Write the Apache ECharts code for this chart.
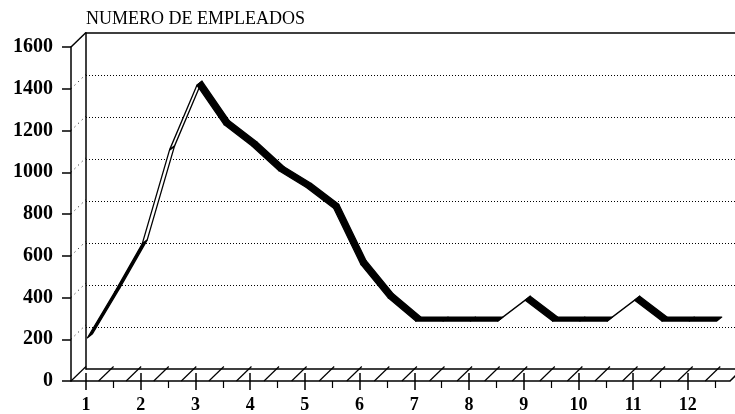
<!DOCTYPE html>
<html>
<head>
<meta charset="utf-8">
<script src="https://cdn.jsdelivr.net/npm/echarts@6/dist/echarts.min.js"></script>
<style>
html, body { margin: 0; padding: 0; background: #fff; }
#chart { width: 735px; height: 414px; }
</style>
</head>
<body>
<div id="chart"></div>
<script>
// quincenas sobre el eje de meses
const periodos = [1, 1.5, 2, 2.5, 3, 3.5, 4, 4.5, 5, 5.5, 6, 6.5, 7, 7.5, 8, 8.5, 9, 9.5, 10, 10.5, 11, 11.5, 12, 12.5]
const empleados = [200, 420, 650, 1100, 1410, 1220, 1120, 1000, 920, 820, 550, 390, 280, 280, 280, 280, 380, 280, 280, 280, 380, 280, 280, 280]
const meses = [1, 2, 3, 4, 5, 6, 7, 8, 9, 10, 11, 12]
const medios = [1.5, 2.5, 3.5, 4.5, 5.5, 6.5, 7.5, 8.5, 9.5, 10.5, 11.5, 12.5]
const yTicks = [0, 200, 400, 600, 800, 1000, 1200, 1400, 1600]

const X_MIN = 0.726
const X_MAX = 12.77
const DX = 15, DY = -14.5        // profundidad del marco 3D
const HATCH_STEP = 0.504
const FONT = 'Liberation Serif'

const chart = echarts.init(document.getElementById('chart'))

const renderFrame = (params, api) => {
  const children = []
  const line = (p, q, style) => children.push({
    type: 'line', shape: { x1: p[0], y1: p[1], x2: q[0], y2: q[1] }, style
  })
  const back = p => [p[0] + DX, p[1] + DY]
  const solid = { stroke: '#000', lineWidth: 1.5 }

  const tl = api.coord([X_MIN, 1600])
  line(tl, back(tl), solid)

  // rayado del piso
  for (let x = X_MIN; x <= X_MAX + 0.01; x += HATCH_STEP) {
    const p = api.coord([x, 0])
    line(p, back(p), { stroke: '#000', lineWidth: 1.2 })
  }
  const br = api.coord([X_MAX, 0])
  line(br, back(br), solid)

  // punteado de la pared lateral
  yTicks.slice(1, -1).forEach(v => {
    const p = api.coord([X_MIN, v])
    line(p, back(p), { stroke: '#000', lineWidth: 1, lineDash: [1, 4] })
  })
  return { type: 'group', children }
}

// cinta con grosor: cara oscura al bajar, hueca al subir empinado
const renderRibbon = (params, api) => {
  const i = params.dataIndex
  if (i >= periodos.length - 1) return
  const p0 = api.coord([periodos[i], empleados[i]])
  const p1 = api.coord([periodos[i + 1], empleados[i + 1]])
  const a0 = [p0[0] + 1.5, p0[1] - 1.5]
  const a1 = [p1[0] + 1.5, p1[1] - 1.5]
  const b0 = [a0[0] + 5, a0[1] - 4]
  const b1 = [a1[0] + 5, a1[1] - 4]
  const dx = a1[0] - a0[0], dy = a1[1] - a0[1]
  const gap = (dx * (-4) - dy * 5) / Math.hypot(dx, dy)
  const filled = gap < 2.5
  return {
    type: 'polygon',
    shape: { points: [a0, a1, b1, b0] },
    style: { fill: filled ? '#000' : '#fff', stroke: '#000', lineWidth: 1.3, lineJoin: 'round' }
  }
}

const hidden = { show: false }
const plain = v => String(v)

const option = {
  animation: false,
  backgroundColor: '#fff',
  title: {
    text: 'NUMERO DE EMPLEADOS',
    left: 86,
    top: 10,
    padding: 0,
    textStyle: { fontFamily: FONT, fontSize: 18, fontWeight: 'normal', color: '#000' }
  },
  grid: [
    { left: 86, top: 33, width: 649, height: 336 },  // pared del fondo
    { left: 71, top: 47, width: 659, height: 337 }   // plano frontal
  ],
  xAxis: [
    {
      gridIndex: 1, type: 'value', min: X_MIN, max: X_MAX, position: 'bottom',
      axisLine: { onZero: false, lineStyle: { color: '#000', width: 1.5 } },
      axisTick: { show: true, customValues: meses, length: 9, lineStyle: { color: '#000', width: 1.5 } },
      axisLabel: { customValues: meses, formatter: plain, margin: 15, color: '#000', fontFamily: FONT, fontSize: 18, fontWeight: 'bold' },
      splitLine: hidden
    },
    {
      gridIndex: 1, type: 'value', min: X_MIN, max: X_MAX, position: 'bottom',
      axisLine: { show: false, onZero: false },
      axisTick: { show: true, inside: true, customValues: meses, length: 8, lineStyle: { color: '#000', width: 1.5 } },
      axisLabel: hidden,
      splitLine: hidden
    },
    {
      gridIndex: 1, type: 'value', min: X_MIN, max: X_MAX, position: 'bottom',
      axisLine: { show: false, onZero: false },
      axisTick: { show: true, customValues: medios, length: 7, lineStyle: { color: '#000', width: 1.2 } },
      axisLabel: hidden,
      splitLine: hidden
    },
    {
      gridIndex: 0, type: 'value', min: 0, max: 1, position: 'bottom',
      axisLine: { onZero: false, lineStyle: { color: '#000', width: 1.5 } },
      axisTick: hidden, axisLabel: hidden, splitLine: hidden
    },
    {
      gridIndex: 0, type: 'value', min: 0, max: 1, position: 'top',
      axisLine: { onZero: false, lineStyle: { color: '#000', width: 1.5 } },
      axisTick: hidden, axisLabel: hidden, splitLine: hidden
    }
  ],
  yAxis: [
    {
      gridIndex: 1, type: 'value', min: 0, max: 1600, interval: 200,
      axisLine: { show: true, onZero: false, lineStyle: { color: '#000', width: 1.5 } },
      axisTick: { show: true, length: 9, lineStyle: { color: '#000', width: 1.5 } },
      axisLabel: { formatter: plain, margin: 18, color: '#000', fontFamily: FONT, fontSize: 20, fontWeight: 'bold' },
      splitLine: hidden
    },
    {
      gridIndex: 0, type: 'value', min: 0, max: 1600, interval: 200,
      axisLine: { show: true, onZero: false, lineStyle: { color: '#000', width: 1.5 } },
      axisTick: hidden, axisLabel: hidden,
      splitLine: {
        show: true, showMinLine: false, showMaxLine: false,
        lineStyle: { color: '#000', width: 1, type: [1, 2] }
      }
    }
  ],
  series: [
    {
      type: 'custom', xAxisIndex: 0, yAxisIndex: 0, silent: true, z: 1,
      data: [[X_MIN, 0]],
      renderItem: renderFrame
    },
    {
      type: 'custom', xAxisIndex: 0, yAxisIndex: 0, silent: true, z: 3,
      data: periodos.map((p, i) => [p, empleados[i]]),
      renderItem: renderRibbon
    }
  ]
}

chart.setOption(option)
</script>
</body>
</html>
